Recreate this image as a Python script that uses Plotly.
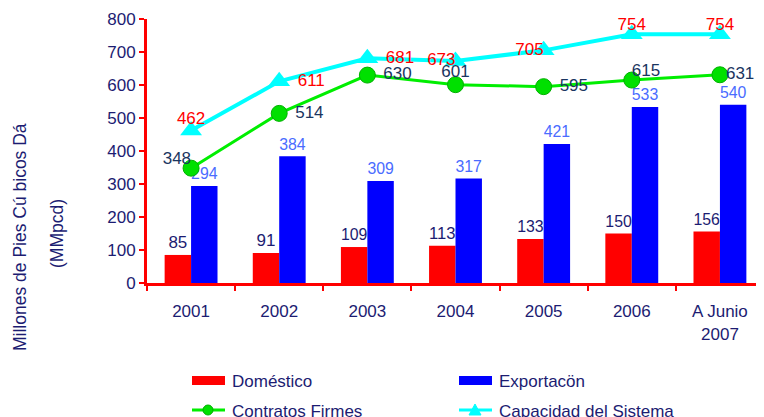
import plotly.graph_objects as go

categories = ["2001", "2002", "2003", "2004", "2005", "2006", "A Junio<br>2007"]
domestico = [85, 91, 109, 113, 133, 150, 156]
exportacion = [294, 384, 309, 317, 421, 533, 540]
contratos = [348, 514, 630, 601, 595, 615, 631]
capacidad = [462, 611, 681, 673, 705, 754, 754]

legend_names = ["Doméstico", "Exportacön", "Contratos Firmes", "Capacidad del Sistema"]

# label placement around each point (position, padding size)
contratos_pos = ["top left", "middle right", "middle right", "top center",
                 "middle right", "top right", "middle right"]
contratos_pad = [0, 24, 24, 4, 24, 0, 8]
capacidad_pos = ["top center", "middle right", "middle right", "middle left",
                 "middle left", "top center", "top center"]
capacidad_pad = [2, 28, 28, 0, 0, 0, 0]

FONT = "Liberation Sans, Arial, sans-serif"
NAVY = "#1c1c72"
RED, BLUE, GREEN, CYAN = "#ff0000", "#0000ff", "#00ee00", "#00ffff"

# the page body adds an 8px offset; size the figure so the screen matches
OX, OY = 8, 8
W, H = 764 - OX, 417 - OY
ML, MR, MT, MB = 147 - OX, 0, 19 - OY, 134
PW, PH = W - ML - MR, H - MT - MB


def px(x):  # screen x -> paper
    return (x - OX - ML) / PW


def py(y):  # screen y -> paper
    return (H - MB - (y - OY)) / PH


fig = go.Figure()
fig.add_trace(go.Bar(
    x=categories, y=domestico, name=legend_names[0],
    marker=dict(color=RED, line=dict(width=0)),
    text=[str(v) for v in domestico], textposition="outside",
    textfont=dict(color=NAVY, size=17, family=FONT), cliponaxis=False,
))
fig.add_trace(go.Bar(
    x=categories, y=exportacion, name=legend_names[1],
    marker=dict(color=BLUE, line=dict(width=0)),
    text=[str(v) for v in exportacion], textposition="outside",
    textfont=dict(color="#4a6cff", size=17, family=FONT), cliponaxis=False,
))
fig.add_trace(go.Scatter(
    x=categories, y=contratos, name=legend_names[2],
    mode="lines+markers",
    line=dict(color=GREEN, width=3),
    marker=dict(symbol="circle", size=16, color="#00e000",
                line=dict(color="#00b000", width=1)),
    cliponaxis=False,
))
fig.add_trace(go.Scatter(
    x=categories, y=capacidad, name=legend_names[3],
    mode="lines+markers",
    line=dict(color=CYAN, width=4),
    marker=dict(symbol="triangle-up", size=19, color=CYAN),
    cliponaxis=False,
))
# data labels of the two lines
fig.add_trace(go.Scatter(
    x=categories, y=contratos, mode="markers+text", showlegend=False,
    marker=dict(size=contratos_pad, opacity=0),
    text=[str(v) for v in contratos], textposition=contratos_pos,
    textfont=dict(color="#1a3560", size=17, family=FONT), cliponaxis=False,
    hoverinfo="skip",
))
fig.add_trace(go.Scatter(
    x=categories, y=capacidad, mode="markers+text", showlegend=False,
    marker=dict(size=capacidad_pad, opacity=0),
    text=[str(v) for v in capacidad], textposition=capacidad_pos,
    textfont=dict(color=RED, size=17, family=FONT), cliponaxis=False,
    hoverinfo="skip",
))

# manual legend (two columns, like the reference)
shapes = [
    dict(type="rect", xref="paper", yref="paper", x0=px(192), x1=px(225),
         y0=py(385), y1=py(376), fillcolor=RED, line=dict(width=0)),
    dict(type="rect", xref="paper", yref="paper", x0=px(459), x1=px(492),
         y0=py(385), y1=py(376), fillcolor=BLUE, line=dict(width=0)),
    dict(type="line", xref="paper", yref="paper", x0=px(192), x1=px(225),
         y0=py(410), y1=py(410), line=dict(color=GREEN, width=3)),
    dict(type="circle", xref="paper", yref="paper", x0=px(203), x1=px(213),
         y0=py(415), y1=py(405), fillcolor="#00e000", line=dict(color="#00b000", width=1)),
    dict(type="line", xref="paper", yref="paper", x0=px(459), x1=px(492),
         y0=py(410), y1=py(410), line=dict(color=CYAN, width=3)),
    dict(type="path", xref="paper", yref="paper",
         path=f"M {px(469)} {py(415)} L {px(481)} {py(415)} L {px(475)} {py(404)} Z",
         fillcolor=CYAN, line=dict(color=CYAN, width=1)),
]
legend_text_pos = [(230, 381), (497, 381), (230, 411), (497, 411)]
annotations = [
    dict(text=name, xref="paper", yref="paper", x=px(lx), y=py(ly),
         xanchor="left", yanchor="middle", showarrow=False,
         font=dict(size=17, color=NAVY, family=FONT))
    for name, (lx, ly) in zip(legend_names, legend_text_pos)
]
annotations += [
    dict(text="Millones de Pies Cú bicos Dá", xref="paper", yref="paper",
         x=px(20), y=py(237), textangle=-90, showarrow=False,
         xanchor="center", yanchor="middle",
         font=dict(size=17.5, color=NAVY, family=FONT)),
    dict(text="(MMpcd)", xref="paper", yref="paper",
         x=px(57), y=py(234), textangle=-90, showarrow=False,
         xanchor="center", yanchor="middle",
         font=dict(size=17.5, color=NAVY, family=FONT)),
]

fig.update_layout(
    width=W, height=H,
    margin=dict(l=ML, r=MR, t=MT, b=MB, autoexpand=False),
    paper_bgcolor="white", plot_bgcolor="white",
    font=dict(family=FONT, size=17, color=NAVY),
    barmode="group", bargap=0.4, bargroupgap=0,
    showlegend=False,
    xaxis=dict(
        showline=True, linecolor=RED, linewidth=3,
        ticks="outside", tickcolor=RED, ticklen=5, tickwidth=2,
        tickson="boundaries", showgrid=False, zeroline=False,
        ticklabelstandoff=11,
        tickfont=dict(size=17, color=NAVY, family=FONT),
        range=[-0.5, 6.5],
    ),
    yaxis=dict(
        range=[0, 800], dtick=100, showgrid=False, zeroline=False,
        showline=True, linecolor=RED, linewidth=3,
        ticks="outside", tickcolor=RED, ticklen=5, tickwidth=2,
        tickfont=dict(size=17, color=NAVY, family=FONT),
    ),
    shapes=shapes,
    annotations=annotations,
)

fig.write_html("out.html")
